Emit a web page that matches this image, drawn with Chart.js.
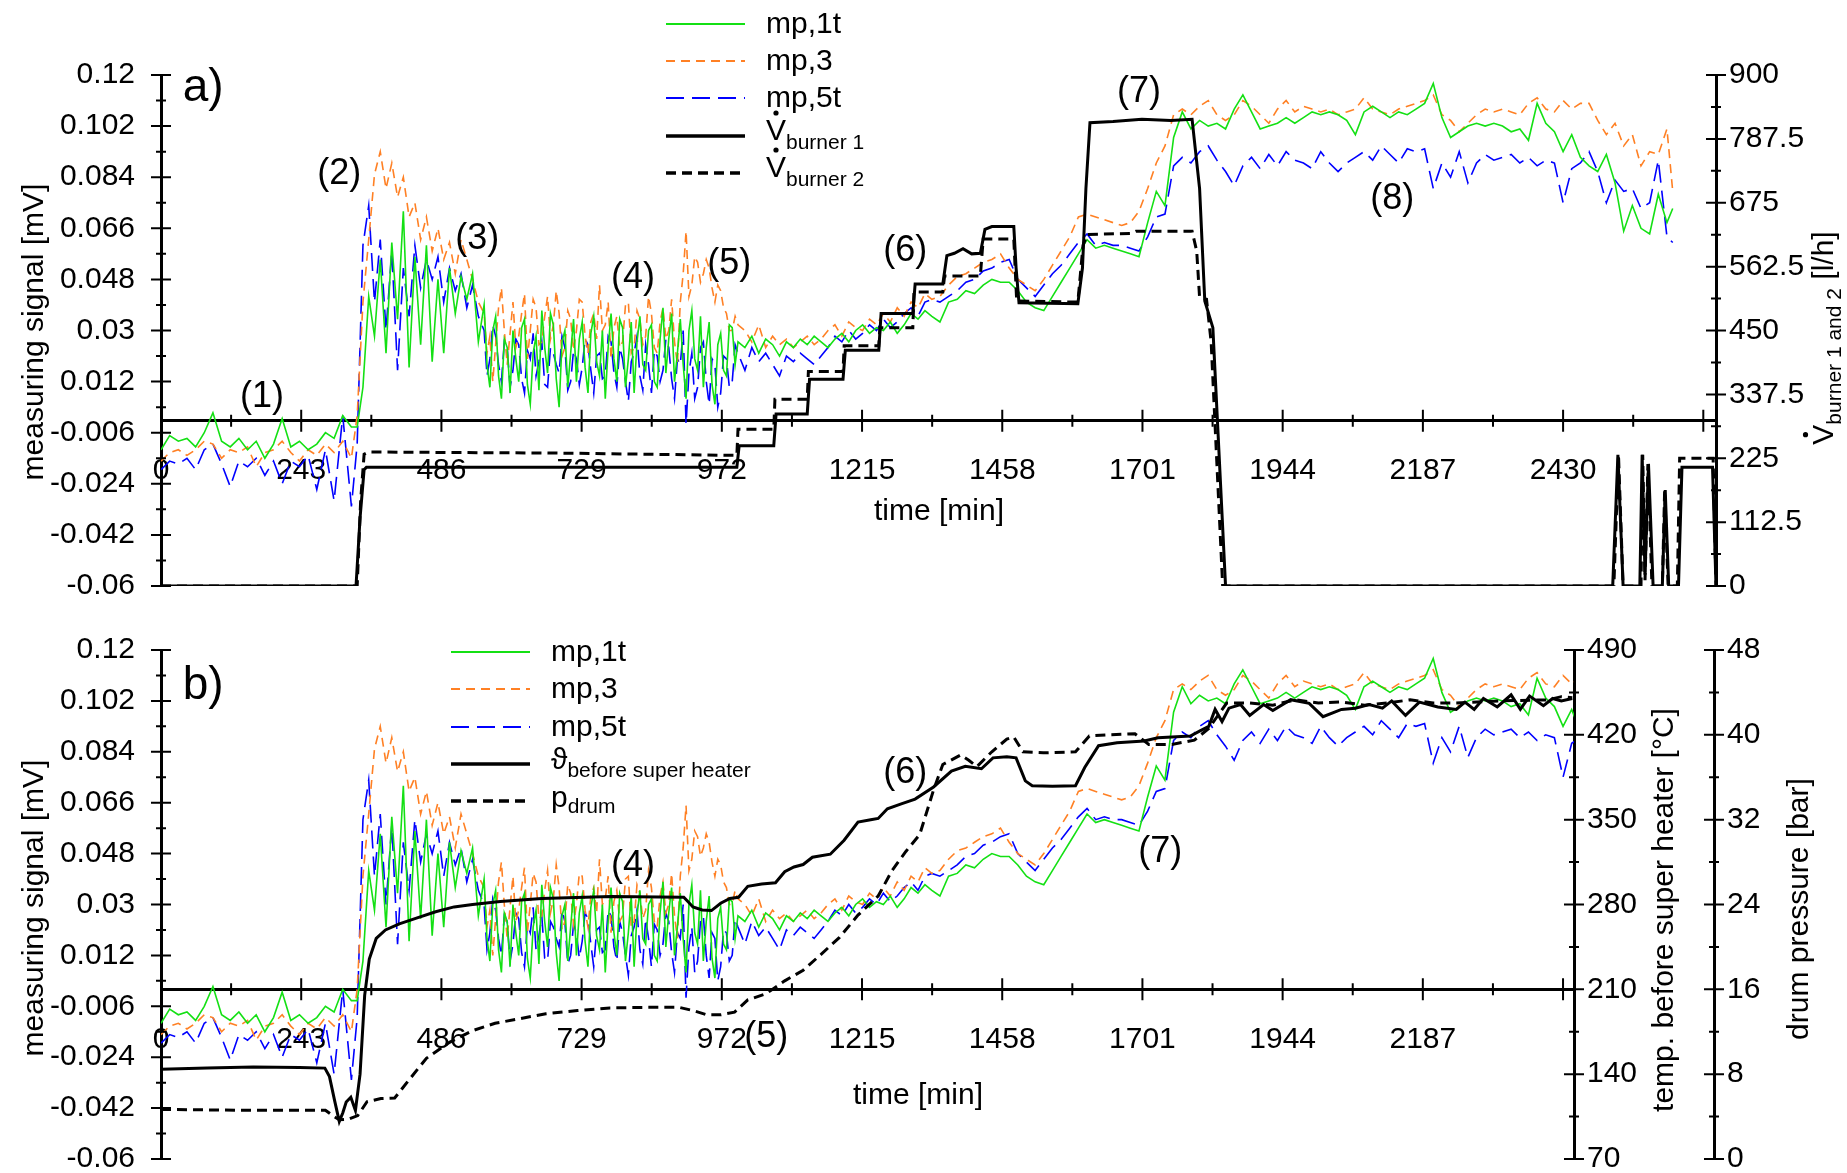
<!DOCTYPE html>
<html>
<head>
<meta charset="utf-8">
<script src="https://cdn.jsdelivr.net/npm/chart.js@4.4.1/dist/chart.umd.min.js"></script>
<style>
  html, body { margin: 0; padding: 0; background: #fff; overflow: hidden; }
  canvas { position: absolute; left: 0; }
  #chartA { top: 0; }
  #chartB { top: 612px; }
</style>
</head>
<body>
<canvas id="chartA" width="1847" height="620"></canvas>
<canvas id="chartB" width="1847" height="566"></canvas>
<script>
// sample times [min] of the three thermo signals (same record in both panels)
var mpTime = [
  0, 15, 30, 45, 60, 75, 90, 105, 120, 135, 150, 165, 180, 195, 210, 225, 240, 255, 270, 285, 300, 315, 330,
  340, 350, 360, 370, 380, 390, 400, 410, 420, 430, 440, 450, 460, 470, 480, 490, 500, 510, 520, 530, 540, 550,
  560, 565, 570, 575, 580, 585, 590, 595, 600, 605,
  610, 615, 620, 625, 630, 635, 640, 645, 650, 655,
  660, 665, 670, 675, 680, 685, 690, 695, 700, 705,
  710, 715, 720, 725, 730, 735, 740, 745, 750, 755,
  760, 765, 770, 775, 780, 785, 790, 795, 800, 805,
  810, 815, 820, 825, 830, 835, 840, 845, 850, 855,
  860, 865, 870, 875, 880, 885, 890, 895, 900, 905,
  910, 915, 920, 925, 930, 935, 940, 945, 950, 955,
  960, 965, 970, 975, 980, 985, 990, 995, 1000,
  1012, 1024, 1036, 1048, 1060, 1072, 1084, 1096, 1108, 1120, 1132, 1144, 1156, 1168, 1180, 1192, 1204, 1216,
  1228, 1240, 1252, 1264, 1276, 1288, 1300, 1312, 1324, 1336,
  1350, 1365, 1380, 1395, 1410, 1425, 1440, 1455, 1470, 1485,
  1500, 1515, 1530, 1545, 1560, 1575, 1590, 1605, 1620, 1635,
  1650, 1665, 1680, 1695, 1710, 1725, 1740, 1755, 1770, 1785,
  1800, 1815, 1830, 1845, 1860, 1875, 1890, 1905, 1920, 1935,
  1950, 1965, 1980, 1995, 2010, 2025, 2040, 2055, 2070, 2085,
  2100, 2115, 2130, 2145, 2160, 2175, 2190, 2205, 2220, 2235,
  2250, 2265, 2280, 2295, 2310, 2325, 2340, 2355, 2370, 2385,
  2400, 2415, 2430, 2445, 2460, 2475, 2490, 2505, 2520, 2535,
  2550, 2565, 2580, 2595, 2610, 2620
];
var mp1t = [
  -0.012, -0.007, -0.009, -0.008, -0.011, -0.006, 0.001, -0.009, -0.011, -0.008, -0.012, -0.009, -0.015, -0.010, -0.001, -0.011, -0.009, -0.012, -0.010, -0.006, -0.008, 0.000, -0.004,
  -0.004, 0.010, 0.042, 0.028, 0.055, 0.022, 0.061, 0.034, 0.072, 0.017, 0.056, 0.025, 0.060, 0.019, 0.048, 0.022, 0.052, 0.036, 0.049, 0.041, 0.050, 0.026,
  0.039, 0.018, 0.010, 0.030, 0.035, 0.014, 0.006, 0.027, 0.024, 0.008,
  0.030, 0.020, 0.012, 0.031, 0.034, 0.011, 0.004, 0.022, 0.028, 0.009,
  0.037, 0.024, 0.015, 0.036, 0.032, 0.013, 0.003, 0.026, 0.030, 0.010,
  0.022, 0.034, 0.012, 0.027, 0.033, 0.017, 0.008, 0.029, 0.035, 0.019,
  0.014, 0.030, 0.006, 0.024, 0.036, 0.020, 0.012, 0.034, 0.031, 0.010,
  0.020, 0.033, 0.008, 0.026, 0.035, 0.018, 0.016, 0.030, 0.032, 0.012,
  0.010, 0.027, 0.038, 0.015, 0.027, 0.036, 0.012, 0.022, 0.034, 0.018,
  0.006, 0.030, 0.037, 0.020, 0.016, 0.035, 0.010, 0.024, 0.033, 0.011,
  0.004, 0.025, 0.029, 0.016, 0.014, 0.032, 0.031, 0.018, 0.026,
  0.024, 0.028, 0.022, 0.027, 0.025, 0.021, 0.026, 0.024, 0.027, 0.025, 0.028, 0.026, 0.024, 0.027, 0.029, 0.026, 0.030, 0.032,
  0.029, 0.031, 0.030, 0.033, 0.029, 0.032, 0.036, 0.034, 0.037, 0.035,
  0.033, 0.040, 0.041, 0.044, 0.043, 0.046, 0.048, 0.047, 0.047, 0.044,
  0.040, 0.038, 0.037, 0.042, 0.047, 0.052, 0.057, 0.062, 0.059, 0.060,
  0.059, 0.058, 0.057, 0.056, 0.068, 0.079, 0.074, 0.098, 0.107, 0.101,
  0.104, 0.102, 0.103, 0.101, 0.108, 0.113, 0.107, 0.101, 0.102, 0.103,
  0.105, 0.103, 0.105, 0.107, 0.106, 0.107, 0.106, 0.104, 0.099, 0.107,
  0.109, 0.107, 0.105, 0.107, 0.106, 0.108, 0.110, 0.117, 0.105, 0.098,
  0.100, 0.102, 0.103, 0.102, 0.103, 0.102, 0.100, 0.101, 0.097, 0.110,
  0.103, 0.100, 0.093, 0.099, 0.091, 0.088, 0.086, 0.092, 0.082, 0.065,
  0.074, 0.066, 0.064, 0.078, 0.068, 0.073
];
var mp3 = [
  -0.016, -0.013, -0.012, -0.014, -0.012, -0.009, -0.010, -0.015, -0.012, -0.013, -0.011, -0.018, -0.013, -0.012, -0.009, -0.013, -0.016, -0.012, -0.014, -0.010, -0.013, -0.009, -0.015,
  0.000, 0.040, 0.062, 0.085, 0.093, 0.080, 0.089, 0.077, 0.084, 0.070, 0.075, 0.062, 0.070, 0.058, 0.066, 0.055, 0.061, 0.050, 0.062, 0.055, 0.048, 0.040,
  0.036, 0.022, 0.028, 0.012, 0.025, 0.038, 0.045, 0.030, 0.018, 0.029,
  0.040, 0.024, 0.028, 0.036, 0.043, 0.020, 0.030, 0.041, 0.038, 0.025,
  0.026, 0.035, 0.042, 0.027, 0.032, 0.044, 0.036, 0.021, 0.024, 0.037,
  0.034, 0.023, 0.030, 0.041, 0.040, 0.028, 0.022, 0.033, 0.036, 0.027,
  0.046, 0.030, 0.032, 0.040, 0.020, 0.031, 0.035, 0.024, 0.026, 0.039,
  0.040, 0.022, 0.024, 0.037, 0.034, 0.025, 0.028, 0.042, 0.036, 0.024,
  0.022, 0.033, 0.038, 0.027, 0.030, 0.041, 0.026, 0.018, 0.040, 0.050,
  0.065, 0.042, 0.046, 0.056, 0.054, 0.047, 0.050, 0.055, 0.052, 0.045,
  0.040, 0.046, 0.044, 0.038, 0.036, 0.030, 0.030, 0.035, 0.032,
  0.030, 0.026, 0.032, 0.024, 0.028, 0.025, 0.027, 0.024, 0.026, 0.028, 0.025, 0.027, 0.030, 0.032, 0.028, 0.033, 0.031, 0.030,
  0.034, 0.032, 0.036, 0.033, 0.038, 0.035, 0.040, 0.038, 0.043, 0.041,
  0.042, 0.046, 0.049, 0.050, 0.052, 0.054, 0.055, 0.057, 0.052, 0.048,
  0.046, 0.044, 0.048, 0.053, 0.058, 0.063, 0.070, 0.071, 0.070, 0.069,
  0.068, 0.067, 0.068, 0.072, 0.080, 0.089, 0.095, 0.106, 0.108, 0.106,
  0.109, 0.111, 0.106, 0.104, 0.106, 0.111, 0.109, 0.106, 0.103, 0.108,
  0.111, 0.107, 0.109, 0.108, 0.107, 0.108, 0.106, 0.107, 0.108, 0.112,
  0.108, 0.107, 0.106, 0.108, 0.109, 0.110, 0.111, 0.113, 0.106, 0.104,
  0.100, 0.103, 0.106, 0.108, 0.107, 0.108, 0.107, 0.106, 0.110, 0.112,
  0.108, 0.107, 0.111, 0.108, 0.110, 0.110, 0.104, 0.099, 0.103, 0.095,
  0.099, 0.088, 0.093, 0.092, 0.101, 0.079
];
var mp5t = [
  -0.019, -0.016, -0.017, -0.015, -0.019, -0.012, -0.010, -0.017, -0.025, -0.016, -0.018, -0.015, -0.021, -0.016, -0.024, -0.016, -0.018, -0.014, -0.026, -0.012, -0.030, 0.000, -0.032,
  -0.010, 0.060, 0.074, 0.040, 0.062, 0.030, 0.058, 0.016, 0.052, 0.035, 0.060, 0.045, 0.055, 0.048, 0.056, 0.040, 0.052, 0.044, 0.050, 0.038, 0.046, 0.035,
  0.030, 0.014, 0.020, 0.032, 0.028, 0.018, 0.012, 0.026, 0.024, 0.010,
  0.016, 0.027, 0.025, 0.013, 0.008, 0.023, 0.020, 0.029, 0.014, 0.019,
  0.026, 0.011, 0.010, 0.024, 0.022, 0.018, 0.015, 0.028, 0.024, 0.009,
  0.012, 0.023, 0.020, 0.011, 0.017, 0.027, 0.025, 0.016, 0.008, 0.021,
  0.022, 0.013, 0.014, 0.028, 0.026, 0.015, 0.010, 0.024, 0.020, 0.012,
  0.005, 0.019, 0.022, 0.028, 0.014, 0.009, 0.025, 0.018, 0.008, 0.023,
  0.021, 0.012, 0.016, 0.027, 0.024, 0.013, 0.006, 0.020, 0.018, 0.030,
  -0.003, 0.015, 0.022, 0.006, 0.010, 0.024, 0.026, 0.012, 0.004, 0.020,
  0.018, 0.003, 0.008, 0.021, 0.020, 0.010, 0.012, 0.025, 0.022,
  0.016, 0.024, 0.019, 0.022, 0.018, 0.014, 0.021, 0.019, 0.022, 0.020, 0.018, 0.021, 0.024, 0.028, 0.026, 0.030, 0.027, 0.029,
  0.032, 0.030, 0.034, 0.031, 0.033, 0.036, 0.038, 0.035, 0.040, 0.041,
  0.040, 0.042, 0.044, 0.047, 0.048, 0.051, 0.052, 0.054, 0.055, 0.048,
  0.045, 0.042, 0.046, 0.050, 0.053, 0.057, 0.061, 0.064, 0.060, 0.061,
  0.060, 0.060, 0.059, 0.058, 0.063, 0.070, 0.071, 0.088, 0.091, 0.089,
  0.093, 0.095, 0.090, 0.086, 0.081, 0.088, 0.091, 0.087, 0.092, 0.088,
  0.093, 0.090, 0.089, 0.087, 0.093, 0.089, 0.086, 0.089, 0.091, 0.093,
  0.090, 0.095, 0.092, 0.089, 0.094, 0.093, 0.094, 0.080, 0.089, 0.084,
  0.093, 0.082, 0.089, 0.092, 0.090, 0.091, 0.092, 0.089, 0.091, 0.088,
  0.090, 0.089, 0.075, 0.087, 0.089, 0.093, 0.086, 0.075, 0.083, 0.079,
  0.080, 0.073, 0.075, 0.090, 0.063, 0.061
];

// oil flow of the two burners [l/h]
var burner1Time = [0, 338, 345, 352, 356, 998, 1002, 1062, 1066, 1120, 1124, 1182, 1186, 1244, 1248, 1303, 1307, 1355, 1362, 1375,
  1390, 1405, 1420, 1428, 1440, 1478, 1482, 1487, 1589, 1597, 1603, 1610, 1650, 1700, 1750, 1787, 1800, 1809, 1823, 1845,
  2516, 2525, 2534, 2563, 2567, 2572, 2578, 2586, 2602, 2607, 2613, 2630, 2636, 2689, 2695];
var burner1 = [0, 0, 120, 205, 209, 209, 247, 247, 303, 303, 364, 364, 415, 415, 480, 480, 532, 532, 582, 586,
  594, 585, 586, 628, 633, 633, 560, 499, 497, 560, 700, 816, 818, 822, 820, 822, 700, 502, 455, 0,
  0, 231, 0, 0, 231, 20, 215, 0, 0, 169, 0, 0, 209, 209, 0];
var burner2Time = [0, 340, 346, 352, 360, 700, 998, 1000, 1062, 1064, 1120, 1122, 1182, 1184, 1244, 1246, 1303, 1305, 1355, 1358,
  1420, 1425, 1478, 1483, 1589, 1598, 1605, 1680, 1690, 1787, 1795, 1800, 1812, 1820, 1840,
  2518, 2526, 2534, 2565, 2568, 2572, 2577, 2584, 2602, 2606, 2612, 2628, 2632, 2690, 2695];
var burner2 = [0, 0, 150, 232, 236, 234, 230, 276, 276, 329, 329, 378, 378, 423, 423, 455, 455, 518, 518, 546,
  546, 611, 611, 502, 500, 600, 619, 621, 625, 625, 590, 508, 505, 430, 0,
  0, 231, 0, 0, 231, 10, 215, 0, 0, 169, 0, 0, 225, 225, 0];

// temperature before super heater [degC] and drum pressure [bar]
var tempTime = [0, 80, 160, 240, 284, 292, 301, 309, 315, 321, 329, 337, 345, 353, 361, 373, 389, 413, 444, 476,
  508, 540, 588, 660, 780, 906, 914, 922, 938, 954, 970, 986, 1001, 1017, 1041, 1065, 1081, 1097, 1113, 1129,
  1160, 1184, 1208, 1230, 1243, 1259, 1283, 1307, 1339, 1370, 1394, 1422, 1442, 1466, 1482, 1498, 1510, 1545, 1585, 1601,
  1625, 1657, 1704, 1728, 1784, 1800, 1816, 1827, 1839, 1851, 1871, 1887, 1911, 1927, 1958, 1990, 2014, 2046, 2070, 2094,
  2117, 2133, 2157, 2181, 2213, 2245, 2260, 2276, 2292, 2316, 2340, 2356, 2372, 2396, 2412, 2427, 2446];
var tempBefore = [144, 145, 146, 145.5, 145, 138, 118, 101, 108, 117, 121, 110, 140, 205, 235, 252, 259, 264, 269, 274,
  278, 280, 282.5, 285, 286.5, 286, 282, 278, 275.5, 275, 281, 285, 286, 295, 297, 298, 307, 311, 313, 319,
  321.5, 333, 348, 350, 351, 359, 363, 367, 377, 390, 394, 392, 401, 402, 401, 382, 378, 377.5, 378, 393,
  411, 413.5, 415, 417.5, 419, 423, 427, 441, 431, 442, 445, 436, 445, 440, 449, 446, 435, 441, 442, 445,
  442, 448, 436, 447, 443, 441, 447, 441, 450, 443, 453, 441, 452, 444, 450, 448, 450];
var pressTime = [0, 143, 285, 300, 309, 325, 341, 357, 381, 405, 429, 460, 500, 540, 579, 619, 667, 722, 778, 842,
  898, 922, 946, 970, 994, 1017, 1049, 1081, 1113, 1144, 1176, 1208, 1243, 1267, 1291, 1315, 1339, 1355, 1386, 1400,
  1414, 1440, 1466, 1478, 1494, 1529, 1585, 1609, 1641, 1688, 1712, 1752, 1791, 1816, 1847, 1887, 1927, 1966, 2006, 2046,
  2086, 2125, 2165, 2205, 2245, 2324, 2404, 2427, 2446];
var pressDrum = [4.67, 4.6, 4.6, 4.0, 3.7, 3.75, 4.1, 5.4, 5.7, 5.75, 7.4, 9.5, 11.0, 12.1, 12.8, 13.2, 13.7, 14.0, 14.25, 14.3,
  14.3, 14.0, 13.6, 13.6, 13.85, 15.0, 15.6, 16.8, 17.8, 19.3, 20.9, 23.0, 24.8, 27.2, 29.0, 30.6, 34.8, 37.2, 38.1, 37.6,
  37.0, 38.4, 39.6, 39.8, 38.4, 38.3, 38.4, 39.9, 40.0, 40.1, 39.1, 39.1, 39.5, 40.6, 43.0, 43.0, 42.8, 43.3, 43.0, 43.1,
  42.8, 43.0, 43.3, 43.0, 43.0, 43.2, 43.3, 43.6, 43.5];

// tick labels
var signalTicks = [-0.06, -0.042, -0.024, -0.006, 0.012, 0.03, 0.048, 0.066, 0.084, 0.102, 0.12];
var burnerTicks = [0, 112.5, 225, 337.5, 450, 562.5, 675, 787.5, 900];
var tempTicks = [70, 140, 210, 280, 350, 420, 490];
var pressTicks = [0, 8, 16, 24, 32, 40, 48];
var timeLabelsA = [0, 243, 486, 729, 972, 1215, 1458, 1701, 1944, 2187, 2430];
var timeLabelsB = [0, 243, 486, 729, 972, 1215, 1458, 1701, 1944, 2187];

var FONT = "'Liberation Sans', Arial, Helvetica, sans-serif";
Chart.defaults.font.family = FONT;
Chart.defaults.font.size = 30;
Chart.defaults.color = '#000';

var GREEN = '#14e014', ORANGE = '#ff8024', BLUE = '#0000ff';

function pts(xs, ys) {
  return xs.map(function (x, i) { return {x: x, y: ys[i]}; });
}
function fixedTicks(list) {
  return function (s) { s.ticks = list.map(function (v) { return {value: v}; }); };
}
function fixedWidth(w) {
  return function (s) { s.width = w; };
}

// text made of pieces (main text + subscripts), baseline at y
function richWidth(ctx, parts) {
  var w = 0;
  parts.forEach(function (p) { ctx.font = p.size + 'px ' + FONT; w += ctx.measureText(p.t).width; });
  return w;
}
function drawRich(ctx, parts, x, y) {
  ctx.textAlign = 'left';
  ctx.textBaseline = 'alphabetic';
  parts.forEach(function (p) {
    ctx.font = p.size + 'px ' + FONT;
    ctx.fillText(p.t, x, y + (p.dy || 0));
    var w = ctx.measureText(p.t).width;
    if (p.dot) {
      ctx.beginPath();
      ctx.arc(x + w / 2, y - p.size * 0.9, 2.6, 0, Math.PI * 2);
      ctx.fill();
    }
    x += w;
  });
}

// axis tick marks (crossing the axis lines), titles, labels and legend
var decor = {
  id: 'decor',
  afterDraw: function (chart, args, o) {
    var ctx = chart.ctx, xs = chart.scales.x, ys = chart.scales.y;
    ctx.save();
    ctx.fillStyle = '#000';
    ctx.strokeStyle = '#000';
    ctx.lineWidth = 2;
    ctx.beginPath();
    var lineY = ys.getPixelForValue(o.xAxisAt);
    for (var t = 0; t <= xs.max; t += 121.5) {
      var px = xs.getPixelForValue(t);
      var len = (Math.round(t / 121.5) % 2 === 0) ? 11 : 6;
      ctx.moveTo(px, lineY - len); ctx.lineTo(px, lineY + len);
    }
    o.yAxes.forEach(function (id) {
      var s = chart.scales[id];
      var vals = s.ticks.map(function (k) { return k.value; });
      var lx = s.position === 'left' ? s.right : s.left;
      vals.forEach(function (v, i) {
        var py = s.getPixelForValue(v);
        ctx.moveTo(lx - 10, py); ctx.lineTo(lx + 10, py);
        if (i < vals.length - 1) {
          var pm = s.getPixelForValue((v + vals[i + 1]) / 2);
          ctx.moveTo(lx - 5, pm); ctx.lineTo(lx + 5, pm);
        }
      });
    });
    ctx.stroke();

    o.titles.forEach(function (ti) {
      var w = richWidth(ctx, ti.parts), sz = ti.parts[0].size;
      ctx.save();
      ctx.translate(ti.x, ti.y);
      if (ti.rot) ctx.rotate(-Math.PI / 2);
      drawRich(ctx, ti.parts, -w / 2, sz * 0.35);
      ctx.restore();
    });

    ctx.textAlign = 'center';
    ctx.textBaseline = 'middle';
    o.notes.forEach(function (n) {
      ctx.font = n.size + 'px ' + FONT;
      ctx.fillText(n.t, xs.getPixelForValue(n.x), ys.getPixelForValue(n.y));
    });

    var lg = o.legend;
    lg.rows.forEach(function (r) {
      var ds = chart.data.datasets[r.ds];
      ctx.save();
      ctx.strokeStyle = ds.borderColor;
      ctx.lineWidth = ds.borderWidth + 0.5;
      ctx.setLineDash(ds.borderDash || []);
      ctx.beginPath();
      ctx.moveTo(lg.x0, r.y); ctx.lineTo(lg.x1, r.y);
      ctx.stroke();
      ctx.restore();
      drawRich(ctx, r.parts, lg.tx, r.y + r.base);
    });
    ctx.restore();
  }
};

function mpSets() {
  return [
    {label: 'mp,1t', data: pts(mpTime, mp1t), borderColor: GREEN, borderWidth: 1.6, yAxisID: 'y', order: 1},
    {label: 'mp,3', data: pts(mpTime, mp3), borderColor: ORANGE, borderWidth: 1.6, borderDash: [9, 6], yAxisID: 'y', order: 2},
    {label: 'mp,5t', data: pts(mpTime, mp5t), borderColor: BLUE, borderWidth: 1.6, borderDash: [18, 8], yAxisID: 'y', order: 3}
  ];
}

// label offset comes from an invisible tick length, so the layout adds no extra padding
function leftAxis() {
  return {
    type: 'linear', position: 'left', min: -0.06, max: 0.12,
    afterBuildTicks: fixedTicks(signalTicks), afterFit: fixedWidth(161),
    grid: {display: false, drawTicks: true, tickLength: 26},
    border: {display: true, color: '#000', width: 3},
    ticks: {padding: 0, callback: function (v) { return String(v); }}
  };
}
function timeAxis(max, at, labels) {
  return {
    type: 'linear', min: 0, max: max, position: {y: at},
    afterBuildTicks: fixedTicks(labels),
    afterFit: function (s) { s.height = 0; },
    grid: {display: false, drawTicks: true, tickLength: 32},
    border: {display: true, color: '#000', width: 3},
    ticks: {padding: 0, autoSkip: false, maxRotation: 0, callback: function (v) { return String(v); }}
  };
}
function rightAxis(min, max, list, width, weight) {
  return {
    type: 'linear', position: 'right', min: min, max: max, weight: weight,
    afterBuildTicks: fixedTicks(list), afterFit: fixedWidth(width),
    grid: {display: false, drawTicks: true, tickLength: 13},
    border: {display: true, color: '#000', width: 3},
    ticks: {padding: 0, callback: function (v) { return String(v); }}
  };
}

var mpLegend = [
  {t: 'mp,1t', size: 30},
  {t: 'mp,3', size: 30},
  {t: 'mp,5t', size: 30}
];

// panel a)
var setsA = mpSets().concat([
  {label: 'burner 1', data: pts(burner1Time, burner1), borderColor: '#000', borderWidth: 3, yAxisID: 'yR', order: 0},
  {label: 'burner 2', data: pts(burner2Time, burner2), borderColor: '#000', borderWidth: 3, borderDash: [10, 6], yAxisID: 'yR', order: 0}
]);

new Chart(document.getElementById('chartA'), {
  type: 'line',
  data: {datasets: setsA},
  options: {
    responsive: false, animation: false, devicePixelRatio: 1, parsing: false,
    layout: {padding: {top: 75, bottom: 34, left: 0, right: 0}},
    elements: {point: {radius: 0}, line: {tension: 0}},
    plugins: {
      legend: {display: false}, tooltip: {enabled: false},
      decor: {
        xAxisAt: -0.0018,
        yAxes: ['y', 'yR'],
        titles: [
          {parts: [{t: 'measuring signal [mV]', size: 30}], x: 32, y: 332, rot: true},
          {parts: [{t: 'V', size: 30, dot: true}, {t: 'burner 1 and 2', size: 21, dy: 8}, {t: ' [l/h]', size: 30}], x: 1822, y: 338, rot: true},
          {parts: [{t: 'time [min]', size: 30}], x: 939, y: 509}
        ],
        notes: [
          {t: 'a)', x: 73, y: 0.1154, size: 46},
          {t: '(1)', x: 175, y: 0.0066, size: 36},
          {t: '(2)', x: 309, y: 0.0851, size: 36},
          {t: '(3)', x: 548, y: 0.0622, size: 36},
          {t: '(4)', x: 818, y: 0.0485, size: 36},
          {t: '(5)', x: 985, y: 0.0534, size: 36},
          {t: '(6)', x: 1290, y: 0.058, size: 36},
          {t: '(7)', x: 1695, y: 0.114, size: 36},
          {t: '(8)', x: 2134, y: 0.0763, size: 36}
        ],
        legend: {
          x0: 666, x1: 745, tx: 766,
          rows: [
            {y: 24, ds: 0, parts: [mpLegend[0]], base: 9},
            {y: 61, ds: 1, parts: [mpLegend[1]], base: 9},
            {y: 98, ds: 2, parts: [mpLegend[2]], base: 9},
            {y: 136, ds: 3, parts: [{t: 'V', size: 30, dot: true}, {t: 'burner 1', size: 21, dy: 9}], base: 4},
            {y: 173, ds: 4, parts: [{t: 'V', size: 30, dot: true}, {t: 'burner 2', size: 21, dy: 9}], base: 4}
          ]
        }
      }
    },
    scales: {
      x: timeAxis(2695, -0.0018, timeLabelsA),
      y: leftAxis(),
      yR: rightAxis(0, 900, burnerTicks, 131, 0)
    }
  },
  plugins: [decor]
});

// panel b)
var setsB = mpSets().concat([
  {label: 'temp', data: pts(tempTime, tempBefore), borderColor: '#000', borderWidth: 3, yAxisID: 'yT', order: 0},
  {label: 'p drum', data: pts(pressTime, pressDrum), borderColor: '#000', borderWidth: 3, borderDash: [10, 6], yAxisID: 'yP', order: 0}
]);

new Chart(document.getElementById('chartB'), {
  type: 'line',
  data: {datasets: setsB},
  options: {
    responsive: false, animation: false, devicePixelRatio: 1, parsing: false,
    layout: {padding: {top: 38, bottom: 19, left: 0, right: 0}},
    elements: {point: {radius: 0}, line: {tension: 0}},
    plugins: {
      legend: {display: false}, tooltip: {enabled: false},
      decor: {
        xAxisAt: 0,
        yAxes: ['y', 'yT', 'yP'],
        titles: [
          {parts: [{t: 'measuring signal [mV]', size: 30}], x: 32, y: 296, rot: true},
          {parts: [{t: 'temp. before super heater [\u00b0C]', size: 30}], x: 1662, y: 298, rot: true},
          {parts: [{t: 'drum pressure [bar]', size: 30}], x: 1797, y: 297, rot: true},
          {parts: [{t: 'time [min]', size: 30}], x: 918, y: 481}
        ],
        notes: [
          {t: 'b)', x: 73, y: 0.1073, size: 46},
          {t: '(4)', x: 818, y: 0.0436, size: 36},
          {t: '(5)', x: 1049, y: -0.0169, size: 36},
          {t: '(6)', x: 1290, y: 0.0765, size: 36},
          {t: '(7)', x: 1732, y: 0.0486, size: 36}
        ],
        legend: {
          x0: 451, x1: 530, tx: 551,
          rows: [
            {y: 40, ds: 0, parts: [mpLegend[0]], base: 9},
            {y: 77, ds: 1, parts: [mpLegend[1]], base: 9},
            {y: 115, ds: 2, parts: [mpLegend[2]], base: 9},
            {y: 152, ds: 3, parts: [{t: '\u03d1', size: 30}, {t: 'before super heater', size: 21, dy: 8}], base: 5},
            {y: 189, ds: 4, parts: [{t: 'p', size: 30}, {t: 'drum', size: 21, dy: 6}], base: 6}
          ]
        }
      }
    },
    scales: {
      x: timeAxis(2449, 0, timeLabelsB),
      y: leftAxis(),
      yT: rightAxis(70, 490, tempTicks, 140, 0),
      yP: rightAxis(0, 48, pressTicks, 133, 1)
    }
  },
  plugins: [decor]
});
</script>
</body>
</html>
